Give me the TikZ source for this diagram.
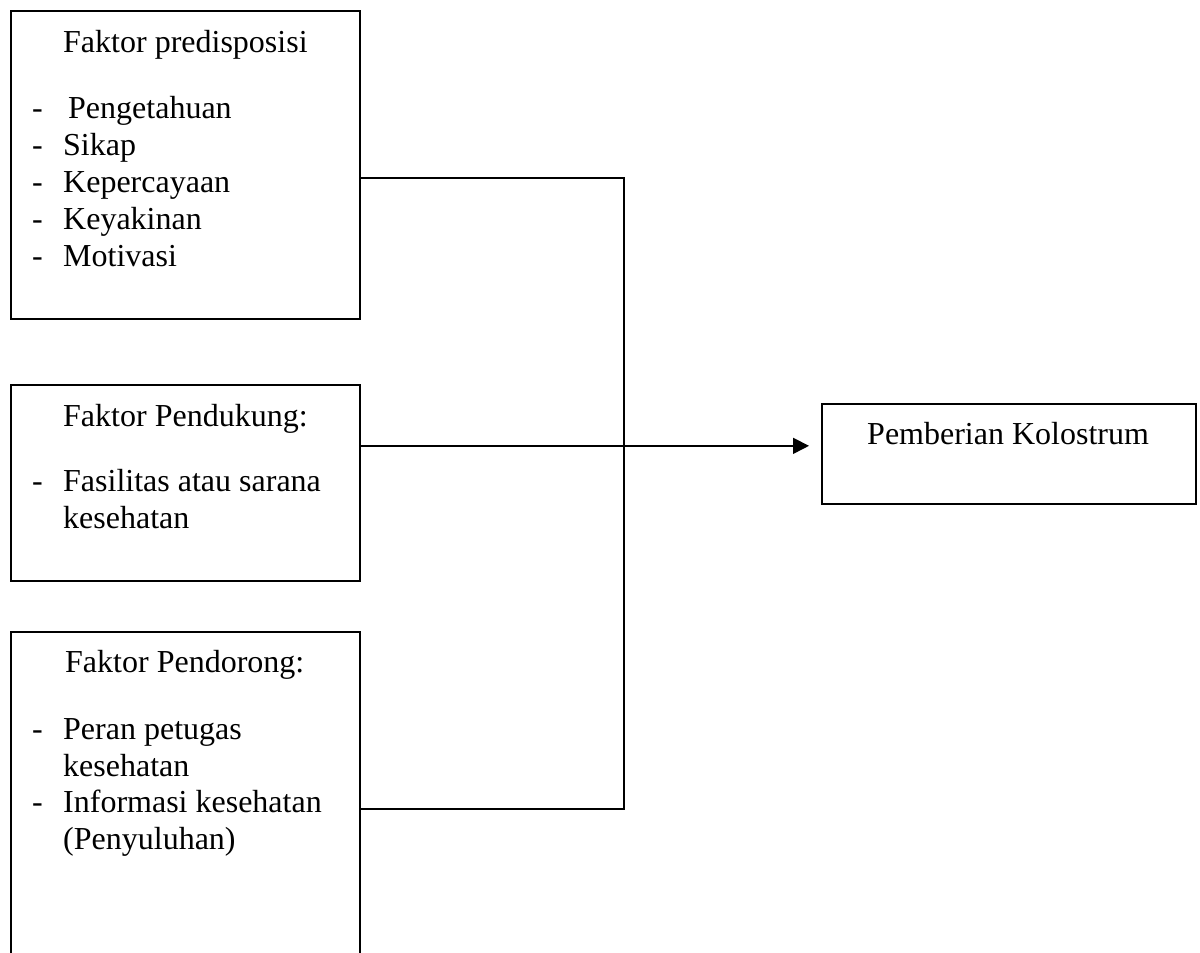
\documentclass[tikz,border=0pt]{standalone}
\usepackage{fontspec}
\setmainfont{Liberation Serif}
\usetikzlibrary{arrows.meta}
\begin{document}
\begin{tikzpicture}[x=1pt,y=-1pt,
  box/.style={draw,line width=1.7pt,rectangle,inner sep=0pt,anchor=north west},
  txt/.style={anchor=base west,inner sep=0pt,font=\fontsize{32}{37}\selectfont},
  link/.style={line width=1.7pt},
  arr/.style={line width=1.7pt,-{Triangle[length=16pt,width=16pt]}}]
\useasboundingbox (0,0) rectangle (1200,953);
\fill[white] (0,0) rectangle (1200,953);
% boxes
\node[box,minimum width=349pt,minimum height=308pt] (b1) at (10,10) {};
\node[box,minimum width=349pt,minimum height=196pt] (b2) at (10,384) {};
\node[box,minimum width=349pt,minimum height=400pt] (b3) at (10,631) {};
\node[box,minimum width=374pt,minimum height=100pt] (b4) at (821,403) {};
% box 1 text
\node[txt] (t1) at (63,52) {Faktor predisposisi};
\node[txt] (d11) at (32,118) {-};
\node[txt] (i11) at (68,118) {Pengetahuan};
\node[txt] (d12) at (32,155) {-};
\node[txt] (i12) at (63,155) {Sikap};
\node[txt] (d13) at (32,192) {-};
\node[txt] (i13) at (63,192) {Kepercayaan};
\node[txt] (d14) at (32,229) {-};
\node[txt] (i14) at (63,229) {Keyakinan};
\node[txt] (d15) at (32,266) {-};
\node[txt] (i15) at (63,266) {Motivasi};
% box 2 text
\node[txt] (t2) at (63,426) {Faktor Pendukung:};
\node[txt] (d21) at (32,491) {-};
\node[txt] (i21) at (63,491) {Fasilitas atau sarana};
\node[txt] (i22) at (63,528) {kesehatan};
% box 3 text
\node[txt] (t3) at (65,672) {Faktor Pendorong:};
\node[txt] (d31) at (32,739) {-};
\node[txt] (i31) at (63,739) {Peran petugas};
\node[txt] (i32) at (63,776) {kesehatan};
\node[txt] (d33) at (32,812) {-};
\node[txt] (i33) at (63,812) {Informasi kesehatan};
\node[txt] (i34) at (63,849) {(Penyuluhan)};
% box 4 text
\node[txt] (t4) at (867,444) {Pemberian Kolostrum};
% connectors
\coordinate (jb) at (624,809);
\draw[link] ([yshift=-13pt]b1.east) -| (jb) -- (b3.east |- jb);
\draw[arr,shorten >=12pt] ([yshift=37pt]b2.east) -- ([yshift=8pt]b4.west);
\end{tikzpicture}
\end{document}
